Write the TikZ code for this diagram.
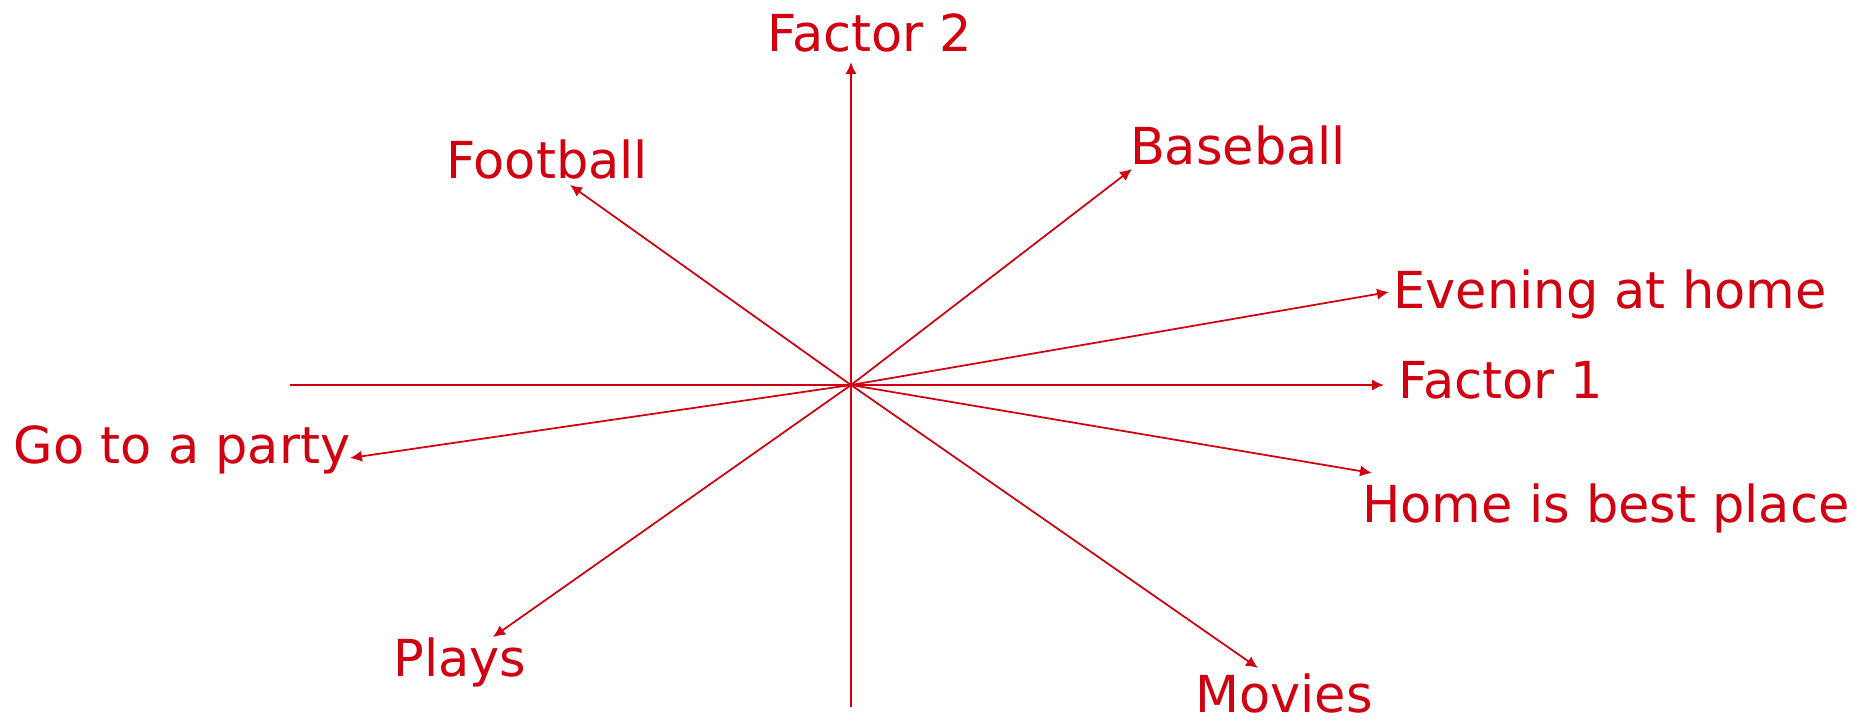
\documentclass[tikz,border=0pt]{standalone}
\usepackage{fontspec}
\setmainfont{DejaVu Sans}
\usepackage{xcolor}
\usetikzlibrary{arrows.meta}
\definecolor{plotred}{RGB}{208,0,16}

\begin{document}
\begin{tikzpicture}[
  >={Latex[length=3.4pt,width=3.2pt]},
  axis/.style={draw=plotred, line width=0.65pt},
  vec/.style={draw=plotred, line width=0.5pt, ->},
  lbl/.style={text=plotred, inner sep=0pt, anchor=base, font=\fontsize{14.5}{17}\selectfont}
]
\useasboundingbox (-8.51,-3.36) rectangle (10.09,3.85);

\coordinate (o) at (0,0);
\coordinate (xl) at (-5.61,0);
\coordinate (xr) at (5.33,0);
\coordinate (yb) at (0,-3.22);
\coordinate (yt) at (0,3.23);

% item vectors (tips)
\coordinate (foot) at (-2.81,2.00);
\coordinate (base) at (2.81,2.16);
\coordinate (even) at (5.38,0.93);
\coordinate (home) at (5.21,-0.88);
\coordinate (party) at (-5.01,-0.73);
\coordinate (plays) at (-3.58,-2.52);
\coordinate (movies) at (4.07,-2.83);

\node[lbl] (f2) at (0.19,3.34) {Factor 2};
\node[lbl] (f1) at (6.50,-0.13) {Factor 1};
\node[lbl] (footL) at (-3.04,2.07) {Football};
\node[lbl] (baseL) at (3.87,2.21) {Baseball};
\node[lbl] (evenL) at (7.59,0.77) {Evening at home};
\node[lbl] (homeL) at (7.55,-1.37) {Home is best place};
\node[lbl] (partyL) at (-6.69,-0.78) {Go to a party};
\node[lbl] (playsL) at (-3.91,-2.91) {Plays};
\node[lbl] (moviesL) at (4.33,-3.27) {Movies};

\draw[axis,->] (xl) -- (xr);
\draw[axis,->] (yb) -- (yt);

\draw[vec] (o) -- (foot);
\draw[vec] (o) -- (base);
\draw[vec] (o) -- (even);
\draw[vec] (o) -- (home);
\draw[vec] (o) -- (party);
\draw[vec] (o) -- (plays);
\draw[vec] (o) -- (movies);
\end{tikzpicture}
\end{document}
